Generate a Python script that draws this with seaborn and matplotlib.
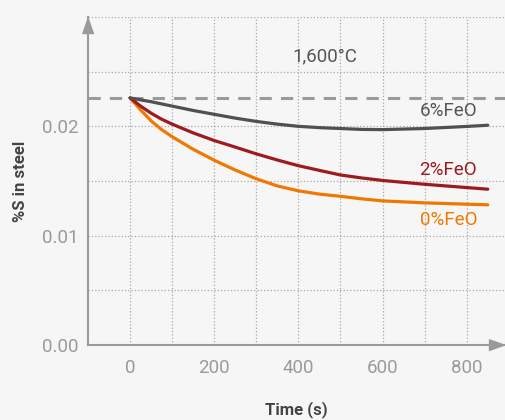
import numpy as np
import pandas as pd
import matplotlib
matplotlib.use("Agg")
import matplotlib.pyplot as plt
from matplotlib.transforms import offset_copy
import seaborn as sns

# values
time_s = [0, 25, 50, 75, 100, 150, 200, 250, 300, 350, 400, 450, 500, 550, 600, 700, 800, 850]
feo0 = [0.0226, 0.0215, 0.0205, 0.0197, 0.01905, 0.0179, 0.0169, 0.0160, 0.0152, 0.01455,
        0.0141, 0.0138, 0.0136, 0.01337, 0.01318, 0.0130, 0.01288, 0.01282]
feo2 = [0.0226, 0.02185, 0.0212, 0.02065, 0.0202, 0.0194, 0.0187, 0.0181, 0.01748, 0.01692,
        0.0164, 0.01597, 0.01555, 0.01528, 0.01505, 0.0147, 0.0144, 0.01425]
feo6 = [0.0226, 0.02242, 0.02225, 0.02205, 0.02185, 0.02145, 0.0211, 0.02075, 0.02045, 0.0202,
        0.0200, 0.01988, 0.0198, 0.01972, 0.0197, 0.0198, 0.01999, 0.0201]
series_names = ["0%FeO", "2%FeO", "6%FeO"]
start_level = 0.0226

colors = {"0%FeO": "#f07800", "2%FeO": "#9b1b1f", "6%FeO": "#505050"}
bg = "#f5f6f5"
axis_gray = "#9a9a9a"

sns.set_style("white", {"axes.facecolor": bg, "figure.facecolor": bg})
plt.rcParams["font.family"] = ["Roboto", "DejaVu Sans"]

df = pd.DataFrame({
    "time": time_s * 3,
    "S": feo0 + feo2 + feo6,
    "slag": [n for n in series_names for _ in time_s],
})

fig = plt.figure(figsize=(5.05, 4.2), dpi=100)
ax = fig.add_axes([88 / 505, 75 / 420, 417 / 505, 328 / 420])

ax.axhline(start_level, color=axis_gray, linestyle=(0, (4, 3)), linewidth=2.2, zorder=1)
sns.lineplot(data=df, x="time", y="S", hue="slag", palette=colors, linewidth=2.3,
             legend=False, ax=ax, zorder=3)

ax.set_xlim(-100, 891)
ax.set_ylim(0, 0.03)
xt = list(range(0, 900, 100))
ax.set_xticks(xt)
ax.set_xticklabels([str(t) if t % 200 == 0 else "" for t in xt])
yt = np.arange(0, 0.0301, 0.005)
ax.set_yticks(yt)
ax.set_yticklabels(["0.00", "", "0.01", "", "0.02", "", ""])
ax.grid(True, linestyle=":", color="#a8a8a8", linewidth=0.9)
ax.tick_params(length=0, colors=axis_gray, labelsize=13.5)
ax.tick_params(axis="y", pad=6.5)
ax.tick_params(axis="x", pad=10)

for side in ["top", "right"]:
    ax.spines[side].set_visible(False)
for side in ["left", "bottom"]:
    ax.spines[side].set_color(axis_gray)
    ax.spines[side].set_linewidth(1.5)

# arrow heads on the axes
ax.plot(0, 1, marker=[(0, 1), (-0.7, -1), (0.7, -1)], ms=11.5, color=axis_gray,
        transform=offset_copy(ax.transAxes, fig, y=-8, units="dots"), clip_on=False)
ax.plot(1, 0, marker=[(1, 0), (-1, 0.7), (-1, -0.7)], ms=11.5, color=axis_gray,
        transform=offset_copy(ax.transAxes, fig, x=-8, units="dots"), clip_on=False)

ax.text(463, 0.0264, "1,600°C", ha="center", va="center", color="#555555", fontsize=13.5)
ax.text(825, 0.0214, "6%FeO", ha="right", va="center", color="#555555", fontsize=13.5)
ax.text(825, 0.0160, "2%FeO", ha="right", va="center", color=colors["2%FeO"], fontsize=13.5)
ax.text(825, 0.0114, "0%FeO", ha="right", va="center", color=colors["0%FeO"], fontsize=13.5)

ax.set_xlabel("Time (s)", fontweight="bold", color="#444444", fontsize=12)
ax.set_ylabel("%S in steel", fontweight="bold", color="#444444", fontsize=12)
ax.xaxis.set_label_coords(0.5, -0.172)
ax.yaxis.set_label_coords(-0.145, 0.5)

fig.savefig("out.png", dpi=100, facecolor=bg)
